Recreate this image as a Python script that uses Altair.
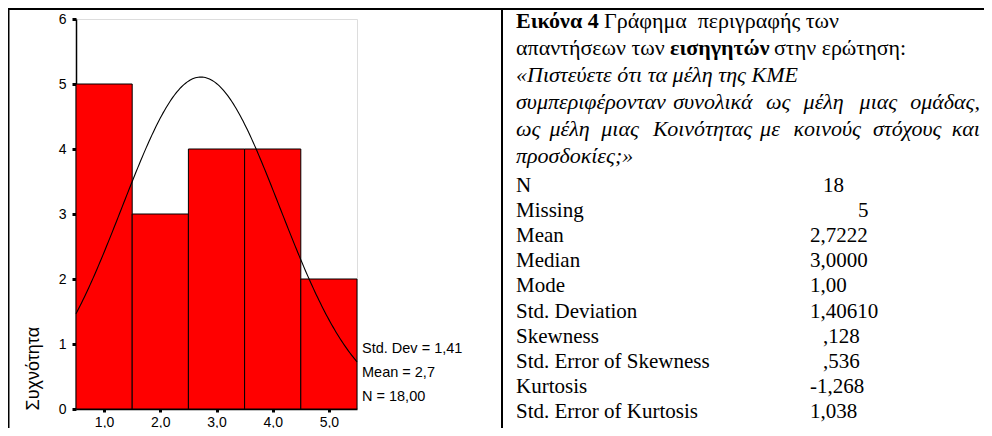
import altair as alt
import pandas as pd

# ---------------- data ----------------
bin_centers = [1.0, 2.0, 3.0, 4.0, 5.0]
counts = [5, 3, 4, 4, 2]
y_tick_values = [0, 1, 2, 3, 4, 5, 6]
x_tick_values = [1, 2, 3, 4, 5]
axis_title = "Συχνότητα"

n_valid = 18
mean_value = 2.7222
std_value = 1.40610
legend_lines = ["Std. Dev = 1,41", "Mean = 2,7", "N = 18,00"]

caption_head = [
    [("Εικόνα 4", "bold"), ("Γράφημα\u00a0 περιγραφής των", "normal")],
    [("απαντήσεων των", "normal"), ("εισηγητών", "bold"), ("στην ερώτηση:", "normal")],
]
caption_italic = [
    "«Πιστεύετε ότι τα μέλη της ΚΜΕ",
    "συμπεριφέρονταν συνολικά ως μέλη μιας ομάδας,",
    "ως μέλη μιας Κοινότητας με κοινούς στόχους και",
    "προσδοκίες;»",
]
stat_names = ["N", "Missing", "Mean", "Median", "Mode", "Std. Deviation",
              "Skewness", "Std. Error of Skewness", "Kurtosis", "Std. Error of Kurtosis"]
stat_values = ["18", "5", "2,7222", "3,0000", "1,00", "1,40610",
               ",128", ",536", "-1,268", "1,038"]

# ---------------- layout (pixels) ----------------
PLOT_W, PLOT_H = 281, 390
PAD_L, PAD_T = 68, 11
CANVAS_W, CANVAS_H = 976, 420
OX, OY = 76, 19  # page position of plot origin

TEXT_L, TEXT_R = 516, 980
CAP_FS, STAT_FS = 22, 21
CHAR_W = 9.2                       # approx. italic char advance at CAP_FS
head_x = [[516, 604], [516, 670, 774]]
justified = [False, True, True, False]
cap_y = [21 + 27 * i for i in range(6)]
stat_y = [186 + 25.1 * j for j in range(10)]
stat_val_x = [823, 858, 810, 810, 810, 810, 823, 823, 810, 810]
legend_x = 362
legend_y = [349, 373, 397]

SANS = "Liberation Sans"
SERIF = "Liberation Serif"

# ---------------- histogram ----------------
hist_df = pd.DataFrame({
    "start": [c - 0.5 for c in bin_centers],
    "end": [c + 0.5 for c in bin_centers],
    "count": counts,
})
xs = alt.Scale(domain=[0.5, 5.5], nice=False, zero=False)
ys = alt.Scale(domain=[0, 6], nice=False)

x_axis = alt.Axis(
    values=x_tick_values, title=None, grid=False,
    labelExpr="replace(format(datum.value, '.1f'), '.', ',')",
    tickSize=3, tickWidth=3, tickColor="black",
    domainColor="black", domainWidth=1.5,
    labelFont=SANS, labelFontSize=14, labelColor="black", labelPadding=3)
y_axis = alt.Axis(
    values=y_tick_values, format="d", grid=False, title=axis_title,
    tickSize=4, tickWidth=3, tickColor="black",
    domainColor="black", domainWidth=1.5,
    labelFont=SANS, labelFontSize=14, labelColor="black", labelPadding=6,
    titleFont=SANS, titleFontSize=18, titleFontWeight="normal", titleColor="black",
    titleAngle=270, titleX=33 - OX, titleY=410 - OY, titleAlign="left",
    titleBaseline="middle")

bars = alt.Chart(hist_df).mark_rect(color="#ff0000", stroke="black", strokeWidth=1).encode(
    x=alt.X("start:Q", scale=xs, axis=x_axis, title=None),
    x2="end:Q",
    y=alt.Y("count:Q", scale=ys, axis=y_axis, title=axis_title),
    y2=alt.datum(0),
)

curve = alt.Chart(alt.sequence(start=0.5, stop=5.5125, step=0.025, as_="v")).transform_calculate(
    dens=f"{n_valid} * densityNormal(datum.v, {mean_value}, {std_value})"
).mark_line(color="black", strokeWidth=1.1).encode(
    x=alt.X("v:Q", scale=xs, axis=x_axis, title=None),
    y=alt.Y("dens:Q", scale=ys, axis=y_axis, title=axis_title),
)

hist_layer = alt.layer(bars, curve)

# ---------------- text in pixel coordinates ----------------
rows = []
for i, segs in enumerate(caption_head):
    for j, (txt, style) in enumerate(segs):
        rows.append({"text": txt, "style": style, "align": "left",
                     "px": head_x[i][j] - OX, "py": cap_y[i] - OY})
for k, line in enumerate(caption_italic):
    yy = cap_y[2 + k] - OY
    words = line.split(" ")
    if not justified[k]:
        rows.append({"text": line, "style": "italic", "align": "left",
                     "px": TEXT_L - OX, "py": yy})
        continue
    nat_total = len(line) * CHAR_W
    extra = (TEXT_R - TEXT_L - nat_total) / (len(words) - 1)
    idx = 0
    for w_i, w in enumerate(words):
        if w_i == len(words) - 1:
            rows.append({"text": w, "style": "italic", "align": "right",
                         "px": TEXT_R - OX, "py": yy})
        else:
            rows.append({"text": w, "style": "italic", "align": "left",
                         "px": TEXT_L + idx * CHAR_W + w_i * extra - OX, "py": yy})
        idx += len(w) + 1
text_df = pd.DataFrame(rows)

stat_rows = []
for k, name in enumerate(stat_names):
    stat_rows.append({"text": name, "px": TEXT_L - OX, "py": stat_y[k] - OY})
    stat_rows.append({"text": stat_values[k], "px": stat_val_x[k] - OX, "py": stat_y[k] - OY})
stat_df = pd.DataFrame(stat_rows)


def cap_layer(style, align, **kw):
    return alt.Chart(text_df).transform_filter(
        (alt.datum.style == style) & (alt.datum.align == align)
    ).mark_text(align=align, baseline="middle", font=SERIF, fontSize=CAP_FS,
                color="black", **kw).encode(
        x=alt.X("px:Q", scale=None, axis=None),
        y=alt.Y("py:Q", scale=None, axis=None),
        text="text:N",
    )

t_normal = cap_layer("normal", "left")
t_bold = cap_layer("bold", "left", fontWeight="bold")
t_italic = cap_layer("italic", "left", fontStyle="italic")
t_italic_r = cap_layer("italic", "right", fontStyle="italic")

t_stats = alt.Chart(stat_df).mark_text(
    align="left", baseline="middle", font=SERIF, fontSize=STAT_FS, color="black"
).encode(
    x=alt.X("px:Q", scale=None, axis=None),
    y=alt.Y("py:Q", scale=None, axis=None),
    text="text:N",
)

leg_df = pd.DataFrame({"text": legend_lines,
                       "px": [legend_x - OX] * 3,
                       "py": [v - OY for v in legend_y]})
legend_text = alt.Chart(leg_df).mark_text(
    align="left", baseline="middle", font=SANS, fontSize=14.5, color="black"
).encode(
    x=alt.X("px:Q", scale=None, axis=None),
    y=alt.Y("py:Q", scale=None, axis=None),
    text="text:N",
)

one = pd.DataFrame({"k": [0]})
top_rule = alt.Chart(one).mark_rule(color="black", strokeWidth=2).encode(
    x=alt.value(-PAD_L), x2=alt.value(CANVAS_W - PAD_L), y=alt.value(9 - OY))
left_rule = alt.Chart(one).mark_rule(color="black", strokeWidth=2).encode(
    x=alt.value(8.5 - OX), y=alt.value(8 - OY), y2=alt.value(CANVAS_H - PAD_T))
mid_rule = alt.Chart(one).mark_rule(color="black", strokeWidth=2).encode(
    x=alt.value(502 - OX), y=alt.value(8 - OY), y2=alt.value(CANVAS_H - PAD_T))

chart = alt.layer(
    hist_layer, t_normal, t_bold, t_italic, t_italic_r, t_stats, legend_text,
    top_rule, left_rule, mid_rule
).resolve_scale(x="independent", y="independent").properties(
    width=PLOT_W, height=PLOT_H,
    autosize=alt.AutoSizeParams(type="none"),
    padding={"left": PAD_L, "top": PAD_T,
             "right": CANVAS_W - PAD_L - PLOT_W, "bottom": CANVAS_H - PAD_T - PLOT_H},
).configure_view(stroke="black", strokeWidth=1).configure(background="white")

chart.save("out.html", embed_options={"renderer": "svg", "actions": False})
